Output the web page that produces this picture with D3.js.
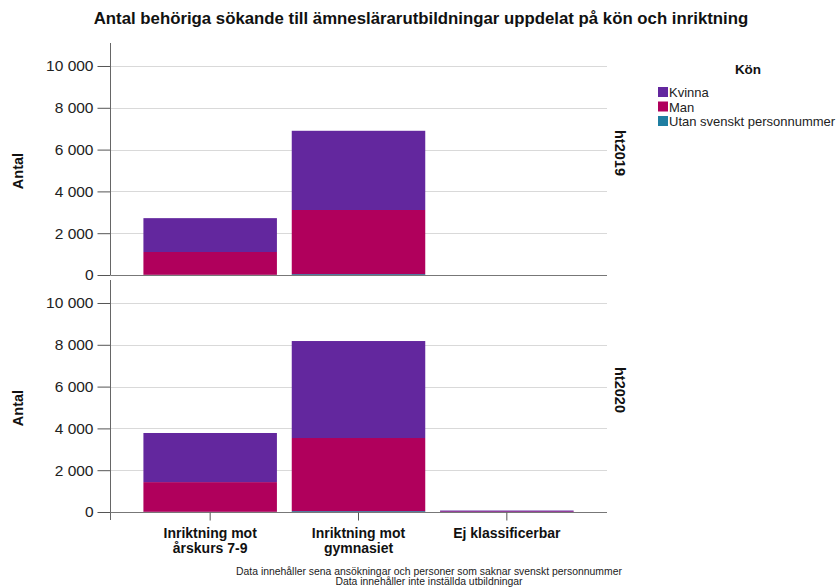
<!DOCTYPE html>
<html><head><meta charset="utf-8">
<script src="https://cdn.jsdelivr.net/npm/d3@7"></script>
<style>body{margin:0;background:#fff}svg{display:block;font-family:"Liberation Sans",Arial,sans-serif}</style>
</head><body>
<svg id="c" width="840" height="587"></svg>
<script>
const categories = ["Inriktning mot\nårskurs 7-9", "Inriktning mot\ngymnasiet", "Ej klassificerbar"];
const panels = ["ht2019", "ht2020"];
const seriesNames = ["Utan svenskt personnummer", "Man", "Kvinna"];
const legendOrder = ["Kvinna", "Man", "Utan svenskt personnummer"];
const colors = {"Kvinna": "#63279e", "Man": "#b0005c", "Utan svenskt personnummer": "#1f7ea1"};
// values per panel, per category
const utan2019 = [10, 40, 0];
const man2019 = [1090, 3070, 0];
const kvinna2019 = [1620, 3790, 0];
const utan2020 = [10, 40, 0];
const man2020 = [1420, 3500, 30];
const kvinna2020 = [2350, 4640, 40];
const yTicks = [0, 2000, 4000, 6000, 8000, 10000];
const yMax = 11100;
const footnotes = ["Data innehåller sena ansökningar och personer som saknar svenskt personnummer", "Data innehåller inte inställda utbildningar"];

const data = {
  ht2019: {"Utan svenskt personnummer": utan2019, "Man": man2019, "Kvinna": kvinna2019},
  ht2020: {"Utan svenskt personnummer": utan2020, "Man": man2020, "Kvinna": kvinna2020}
};

const svg = d3.select("#c");
const fmt = v => d3.format(",")(v).replace(/,/g, " ");
const x = d3.scaleBand().domain(categories).range([136, 581]).paddingInner(0.1).paddingOuter(0.05);
const left = 110.5, right = 607;
const panelY = [{top: 43, bottom: 275}, {top: 280, bottom: 512}];

svg.append("text").attr("x", 421).attr("y", 24).attr("text-anchor", "middle")
  .attr("font-weight", "bold").attr("font-size", 16.8).attr("fill", "#111")
  .text("Antal behöriga sökande till ämneslärarutbildningar uppdelat på kön och inriktning");

panels.forEach((p, pi) => {
  const py = panelY[pi];
  const y = d3.scaleLinear().domain([0, yMax]).range([py.bottom, py.top]);
  const g = svg.append("g");
  g.selectAll("line.grid").data(yTicks.filter(t => t > 0)).join("line")
    .attr("x1", left).attr("x2", right)
    .attr("y1", d => Math.round(y(d)) + 0.5).attr("y2", d => Math.round(y(d)) + 0.5)
    .attr("stroke", "#d9d9d9").attr("stroke-width", 1);
  const rows = categories.map((c, i) => {
    const r = {cat: c};
    seriesNames.forEach(s => r[s] = data[p][s][i]);
    return r;
  });
  const stack = d3.stack().keys(seriesNames)(rows);
  stack.forEach(layer => {
    g.selectAll(null).data(layer.filter(d => d[1] > d[0])).join("rect")
      .attr("x", d => x(d.data.cat)).attr("width", x.bandwidth())
      .attr("y", d => y(d[1])).attr("height", d => Math.max(1, y(d[0]) - y(d[1])))
      .attr("fill", colors[layer.key]);
  });
  const ya = d3.axisLeft(y).tickValues(yTicks).tickFormat(fmt).tickSize(13).tickPadding(4);
  const ag = g.append("g").attr("transform", `translate(${left},0)`).call(ya);
  ag.select(".domain").remove();
  ag.selectAll(".tick line").attr("stroke", "#555");
  ag.selectAll(".tick text").attr("font-size", 15.5).attr("fill", "#222").attr("font-family", "Liberation Sans, Arial, sans-serif");
  g.append("line").attr("x1", left).attr("x2", left).attr("y1", py.top).attr("y2", py.bottom + (pi === 1 ? 8 : 0))
    .attr("stroke", "#666");
  g.append("line").attr("x1", left).attr("x2", right).attr("y1", py.bottom + 0.5).attr("y2", py.bottom + 0.5)
    .attr("stroke", "#777");
  const cy = (py.top + py.bottom) / 2 + 12;
  g.append("text").attr("transform", `translate(23,${cy}) rotate(-90)`).attr("text-anchor", "middle")
    .attr("font-weight", "bold").attr("font-size", 14.5).attr("fill", "#111").text("Antal");
  g.append("text").attr("transform", `translate(615,${py.top + 87}) rotate(90)`)
    .attr("font-weight", "bold").attr("font-size", 14.5).attr("fill", "#111").text(p);
});

const xa = d3.axisBottom(x).tickSize(8).tickFormat("");
const xg = svg.append("g").attr("transform", `translate(0,${panelY[1].bottom + 0.5})`).call(xa);
xg.select(".domain").remove();
xg.selectAll(".tick line").attr("stroke", "#555");
categories.forEach(c => {
  const lines = c.split("\n");
  const t = svg.append("text").attr("x", x(c) + x.bandwidth() / 2).attr("y", 538)
    .attr("text-anchor", "middle").attr("font-weight", "bold").attr("font-size", 14).attr("fill", "#111");
  lines.forEach((l, i) => t.append("tspan").attr("x", x(c) + x.bandwidth() / 2).attr("dy", i === 0 ? 0 : 15).text(l));
});

footnotes.forEach((f, i) => {
  svg.append("text").attr("x", 429).attr("y", 575 + i * 9.5).attr("text-anchor", "middle")
    .attr("font-size", 10.4).attr("fill", "#222").text(f);
});

svg.append("text").attr("x", 748).attr("y", 74).attr("text-anchor", "middle")
  .attr("font-weight", "bold").attr("font-size", 13.5).attr("fill", "#111").text("Kön");
legendOrder.forEach((s, i) => {
  const ly = 87 + i * 14.5;
  svg.append("rect").attr("x", 658).attr("y", ly).attr("width", 10).attr("height", 10).attr("fill", colors[s]);
  svg.append("text").attr("x", 669).attr("y", ly + 10).attr("font-size", 13).attr("fill", "#222").text(s);
});
</script>
</body></html>
